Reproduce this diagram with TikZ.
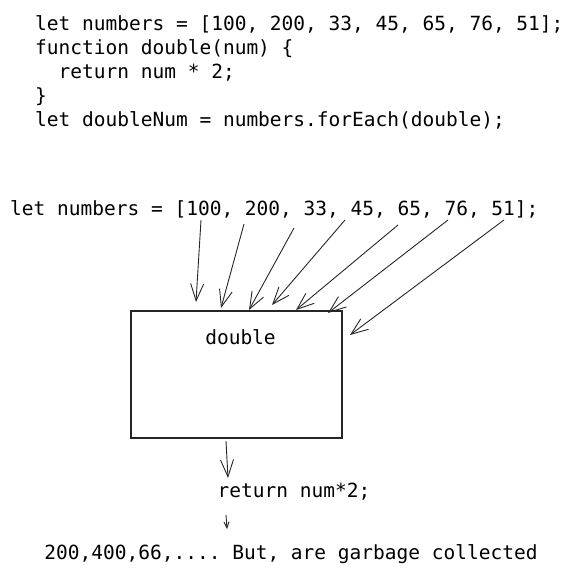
\documentclass[tikz,border=0pt]{standalone}
\usepackage{fontspec}
\setmonofont{DejaVu Sans Mono}
\usetikzlibrary{arrows.meta,positioning,calc}

\begin{document}
\begin{tikzpicture}[
  x={(1pt,0)}, y={(0,-1pt)},
  code/.style={font=\ttfamily\fontsize{19.5}{24}\selectfont, inner sep=0pt, align=left},
  fnbox/.style={rectangle, draw=black!85, line width=1.4pt, minimum width=211pt, minimum height=127pt},
  arr/.style={-{Straight Barb[length=17pt, width=13pt]}, line width=0.9pt, black!85}
]
\useasboundingbox (0,0) rectangle (571,575);

% source code
\node[code, anchor=north west] (src) at (35,15) {let numbers = [100, 200, 33, 45, 65, 76, 51];\\
function double(num) \{\\
\ \ return num * 2;\\
\}\\
let doubleNum = numbers.forEach(double);};

% the array and the function
\node[code, anchor=west] (nums) at (10,209) {let numbers = [100, 200, 33, 45, 65, 76, 51];};
\node[fnbox] (box) at (236.5,374.5) {};
\node[code, below=19pt of box.north, xshift=4pt] (fnname) {double};
\node[code] (ret) at (294,492) {return num*2;};
\node[code] (out) at (291,554) {200,400,66,.... But, are garbage collected};

% arrow ends
\coordinate (s1) at (201,220); \coordinate (e1) at (196,302);
\coordinate (s2) at (244,224); \coordinate (e2) at (221,308);
\coordinate (s3) at (294,228); \coordinate (e3) at (249,310);
\coordinate (s4) at (345,220); \coordinate (e4) at (272,305);
\coordinate (s5) at (398,225); \coordinate (e5) at (296,310);
\coordinate (s6) at (448,220); \coordinate (e6) at (328,313);
\coordinate (s7) at (504,220); \coordinate (e7) at (350,335);
\coordinate (r1) at (226,441); \coordinate (r2) at (228,478);
\coordinate (o1) at (226,515); \coordinate (o2) at (227,529);

\foreach \i in {1,...,7}
  \draw[arr] (s\i) -- (e\i);

\draw[arr] (r1) -- (r2);
\draw[-{Straight Barb[length=6pt, width=5pt]}, line width=0.9pt, black!85] (o1) -- (o2);

\end{tikzpicture}
\end{document}
